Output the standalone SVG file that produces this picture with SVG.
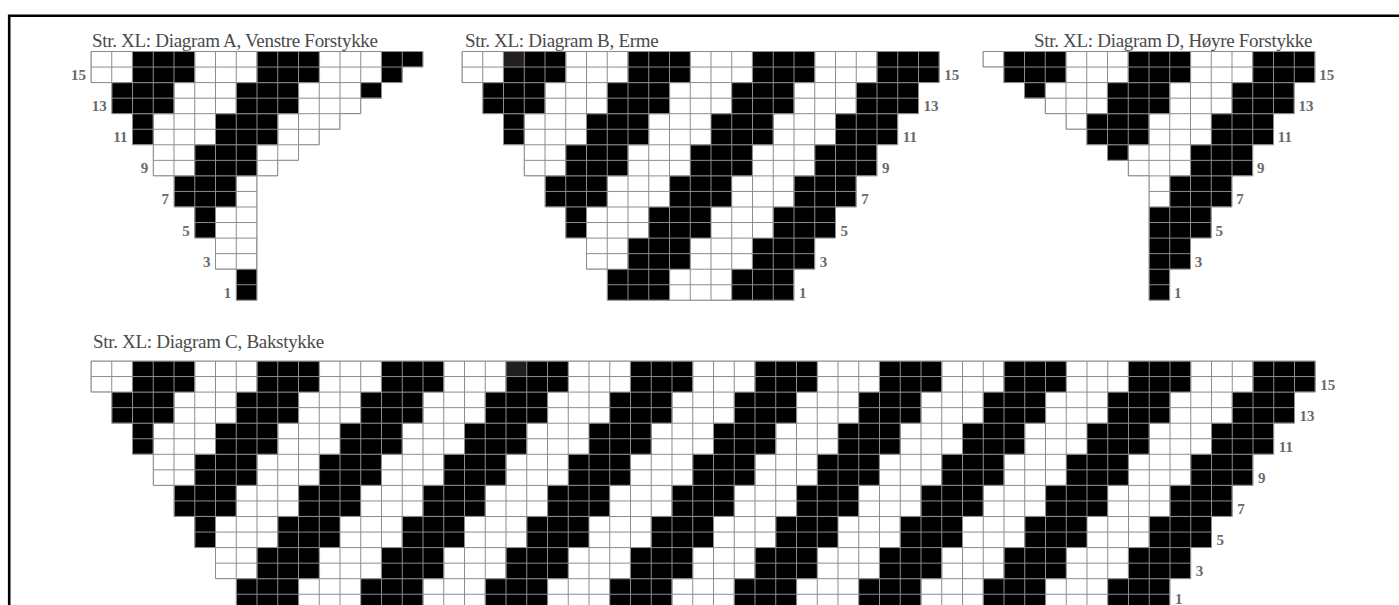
<svg xmlns="http://www.w3.org/2000/svg" xmlns:xlink="http://www.w3.org/1999/xlink" width="1399" height="605" viewBox="0 0 1399 605">
<style>
.title{font-family:"Liberation Serif",serif;font-size:19px;letter-spacing:-0.3px;fill:#4a4a4c}
.num{font-family:"Liberation Serif",serif;font-size:15px;font-weight:bold;fill:#6a6a6c}
.numL{text-anchor:end}
.chart{fill:url(#stripes)}
.lines{fill:url(#grid);stroke:#8c8c8c;stroke-width:1}
.dk{fill:#231f20}
</style>
<defs>
<pattern id="stripes" patternUnits="userSpaceOnUse" x="0" y="0" width="124.5" height="186.6">
<rect width="124.5" height="186.6" fill="#fff"/>
<rect x="41.5" y="0" width="62.25" height="31.1"/>
<rect x="20.75" y="31.1" width="62.25" height="31.1"/>
<rect x="0" y="62.2" width="62.25" height="31.1"/>
<rect x="103.75" y="93.3" width="20.75" height="31.1"/>
<rect x="0" y="93.3" width="41.5" height="31.1"/>
<rect x="83" y="124.4" width="41.5" height="31.1"/>
<rect x="0" y="124.4" width="20.75" height="31.1"/>
<rect x="62.25" y="155.5" width="62.25" height="31.1"/>
</pattern>
<pattern id="grid" patternUnits="userSpaceOnUse" x="-0.5" y="-0.5" width="20.75" height="15.55">
<rect width="20.75" height="1" fill="#8c8c8c"/>
<rect width="1" height="15.55" fill="#8c8c8c"/>
</pattern>
<polygon id="shape-a" points="0,0 332,0 332,15.55 311.25,15.55 311.25,31.1 290.5,31.1 290.5,46.65 269.75,46.65 269.75,62.2 249,62.2 249,77.75 228.25,77.75 228.25,93.3 207.5,93.3 207.5,108.85 186.75,108.85 186.75,124.4 166,124.4 166,248.8 145.25,248.8 145.25,217.7 124.5,217.7 124.5,186.6 103.75,186.6 103.75,155.5 83,155.5 83,124.4 62.25,124.4 62.25,93.3 41.5,93.3 41.5,62.2 20.75,62.2 20.75,31.1 0,31.1"/>
<polygon id="shape-b" points="0,0 477.25,0 477.25,31.1 456.5,31.1 456.5,62.2 435.75,62.2 435.75,93.3 415,93.3 415,124.4 394.25,124.4 394.25,155.5 373.5,155.5 373.5,186.6 352.75,186.6 352.75,217.7 332,217.7 332,248.8 145.25,248.8 145.25,217.7 124.5,217.7 124.5,186.6 103.75,186.6 103.75,155.5 83,155.5 83,124.4 62.25,124.4 62.25,93.3 41.5,93.3 41.5,62.2 20.75,62.2 20.75,31.1 0,31.1"/>
<polygon id="shape-d" points="20.75,0 352.75,0 352.75,31.1 332,31.1 332,62.2 311.25,62.2 311.25,93.3 290.5,93.3 290.5,124.4 269.75,124.4 269.75,155.5 249,155.5 249,186.6 228.25,186.6 228.25,217.7 207.5,217.7 207.5,248.8 186.75,248.8 186.75,124.4 166,124.4 166,108.85 145.25,108.85 145.25,93.3 124.5,93.3 124.5,77.75 103.75,77.75 103.75,62.2 83,62.2 83,46.65 62.25,46.65 62.25,31.1 41.5,31.1 41.5,15.55 20.75,15.55"/>
<polygon id="shape-c" points="0,0 1224.25,0 1224.25,31.1 1203.5,31.1 1203.5,62.2 1182.75,62.2 1182.75,93.3 1162,93.3 1162,124.4 1141.25,124.4 1141.25,155.5 1120.5,155.5 1120.5,186.6 1099.75,186.6 1099.75,217.7 1079,217.7 1079,248.8 145.25,248.8 145.25,217.7 124.5,217.7 124.5,186.6 103.75,186.6 103.75,155.5 83,155.5 83,124.4 62.25,124.4 62.25,93.3 41.5,93.3 41.5,62.2 20.75,62.2 20.75,31.1 0,31.1"/>
</defs>
<rect width="1399" height="605" fill="#fff"/>
<path d="M9.2,605 V15.7 H1399" fill="none" stroke="#000" stroke-width="2.6"/>

<g id="diagram-a">
<text class="title" x="92" y="46.5">Str. XL: Diagram A, Venstre Forstykke</text>
<g transform="translate(91,51.5)">
<use xlink:href="#shape-a" class="chart"/>
<use xlink:href="#shape-a" class="lines"/>
<g class="num numL">
<text x="-5" y="28.5">15</text>
<text x="15.75" y="59.6">13</text>
<text x="36.5" y="90.7">11</text>
<text x="57.25" y="121.8">9</text>
<text x="78" y="152.9">7</text>
<text x="98.75" y="184">5</text>
<text x="119.5" y="215.1">3</text>
<text x="140.25" y="246.2">1</text>
</g>
</g>
</g>

<g id="diagram-b">
<text class="title" x="465" y="46.5">Str. XL: Diagram B, Erme</text>
<g transform="translate(462,51.5)">
<use xlink:href="#shape-b" class="chart"/>
<rect class="dk" x="41.5" y="0" width="20.75" height="15.55"/>
<use xlink:href="#shape-b" class="lines"/>
<g class="num">
<text x="482.25" y="28.5">15</text>
<text x="461.5" y="59.6">13</text>
<text x="440.75" y="90.7">11</text>
<text x="420" y="121.8">9</text>
<text x="399.25" y="152.9">7</text>
<text x="378.5" y="184">5</text>
<text x="357.75" y="215.1">3</text>
<text x="337" y="246.2">1</text>
</g>
</g>
</g>

<g id="diagram-d">
<text class="title" x="1034" y="46.5">Str. XL: Diagram D, Høyre Forstykke</text>
<g transform="translate(962.25,51.5)">
<use xlink:href="#shape-d" class="chart"/>
<use xlink:href="#shape-d" class="lines"/>
<g class="num">
<text x="357" y="28.5">15</text>
<text x="336.25" y="59.6">13</text>
<text x="315.5" y="90.7">11</text>
<text x="294.75" y="121.8">9</text>
<text x="274" y="152.9">7</text>
<text x="253.25" y="184">5</text>
<text x="232.5" y="215.1">3</text>
<text x="211.75" y="246.2">1</text>
</g>
</g>
</g>

<g id="diagram-c">
<text class="title" x="93" y="348">Str. XL: Diagram C, Bakstykke</text>
<g transform="translate(91,361)">
<use xlink:href="#shape-c" class="chart"/>
<rect class="dk" x="415" y="0" width="20.75" height="15.55"/>
<use xlink:href="#shape-c" class="lines"/>
<g class="num">
<text x="1229.25" y="28.5">15</text>
<text x="1208.5" y="59.6">13</text>
<text x="1187.75" y="90.7">11</text>
<text x="1167" y="121.8">9</text>
<text x="1146.25" y="152.9">7</text>
<text x="1125.5" y="184">5</text>
<text x="1104.75" y="215.1">3</text>
<text x="1084" y="242.5">1</text>
</g>
</g>
</g>
</svg>
